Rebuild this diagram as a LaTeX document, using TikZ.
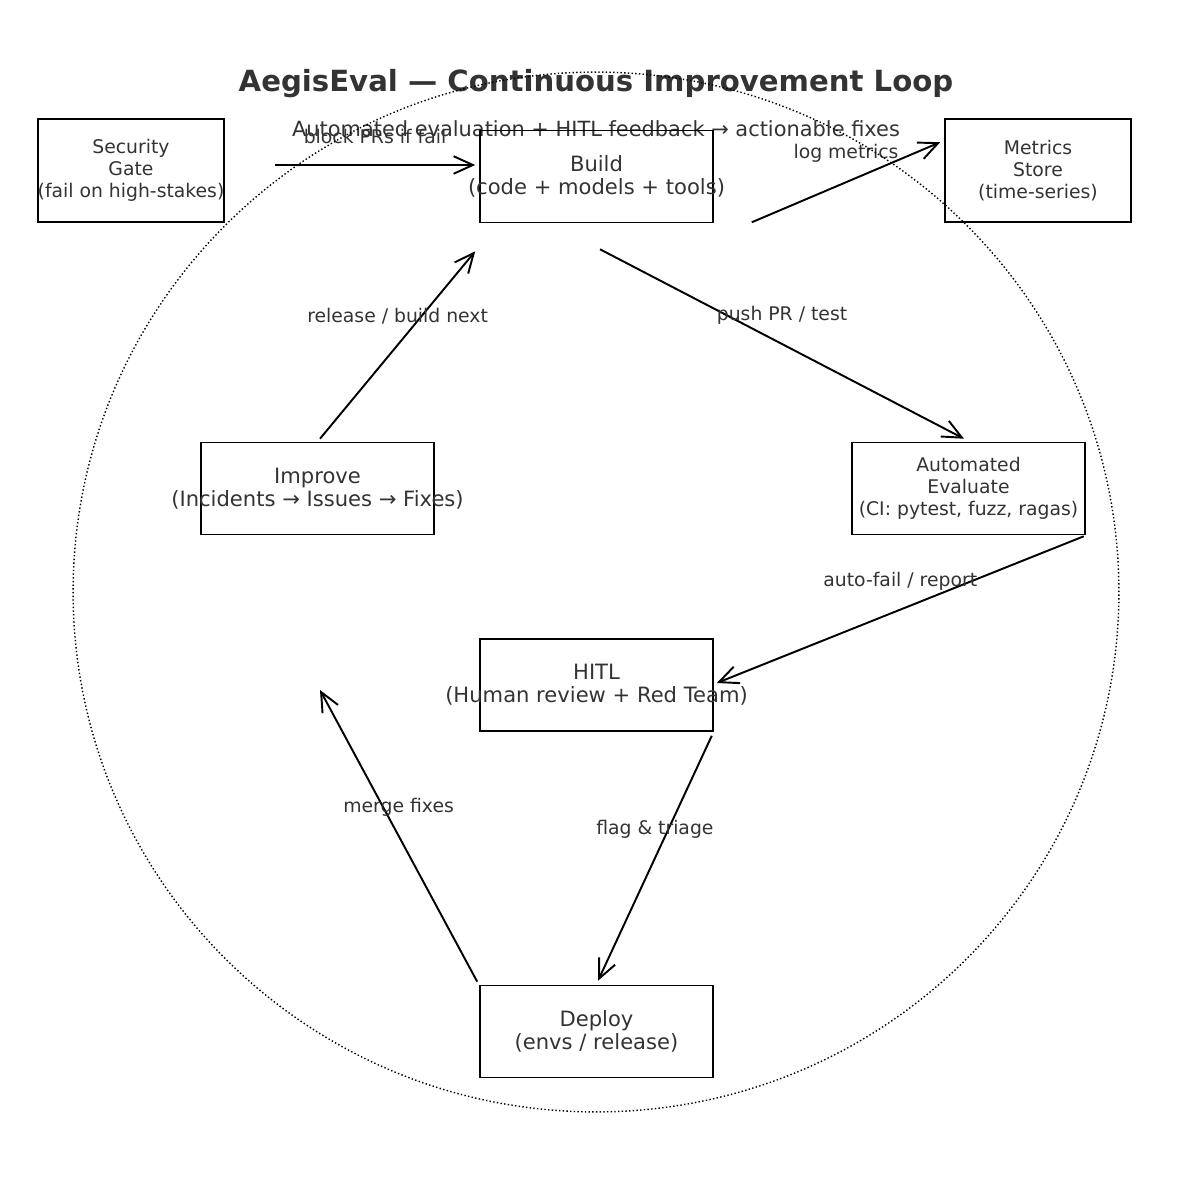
\documentclass[tikz,border=0pt]{standalone}
\usepackage{fontspec}
\setmainfont{DejaVu Sans}
\usetikzlibrary{arrows.meta}
\definecolor{txtgray}{HTML}{333333}

\begin{document}
\begin{tikzpicture}[x=0.02cm, y=-0.02cm, >={Straight Barb[length=11pt,width=10pt]}, line width=1.1pt,
    boxtxt/.style={text=txtgray, align=center, inner sep=0pt, font=\fontsize{12}{13}\selectfont},
    smalltxt/.style={boxtxt, font=\fontsize{10.7}{12.6}\selectfont},
    frame/.style={draw, line width=0.9pt, inner sep=0pt, minimum width=4.66cm, minimum height=1.84cm},
    box/.style={frame, label={[boxtxt]center:#1}},
    evalbox/.style={frame, label={[smalltxt]center:#1}},
    smallbox/.style={frame, minimum width=3.72cm, minimum height=2.06cm, label={[smalltxt]center:#1}},
    lbl/.style={text=txtgray, font=\fontsize{10.7}{12}\selectfont, yshift=16.4pt}]
    \useasboundingbox (0,0) rectangle (1192,1185);

    % Titles
    \node [text=txtgray, font=\fontsize{16.6}{18}\selectfont\bfseries] (title) at (596,84) {AegisEval — Continuous Improvement Loop};
    \node [text=txtgray, font=\fontsize{11.9}{13}\selectfont] (subtitle) at (596,129) {Automated evaluation + HITL feedback → actionable fixes};

    % Nodes {gate, build, metrics, improve, eval, hitl, deploy}
    \node [smallbox={Security\\Gate\\(fail on high-stakes)}]             (gate)    at (131,170.5)   {};
    \node [box={Build\\(code + models + tools)}]                          (build)   at (596.5,176.5) {};
    \node [smallbox={Metrics\\Store\\(time-series)}]                      (metrics) at (1038,170.5)  {};
    \node [box={Improve\\(Incidents → Issues → Fixes)}]                   (improve) at (317.5,488.5) {};
    \node [evalbox={Automated\\Evaluate\\(CI: pytest, fuzz, ragas)}]      (eval)    at (968.5,488.5) {};
    \node [box={HITL\\(Human review + Red Team)}]                         (hitl)    at (596.5,685)   {};
    \node [box={Deploy\\(envs / release)}]                                (deploy)  at (596.5,1031.5) {};
    \coordinate (mergetip) at (320,690);

    % Paths
    \path [->] ([shift={(50,-5.5)}]gate.east)        edge node [lbl] {block PRs if fail}    ([shift={(-4,-11.5)}]build.west);
    \path [->] ([shift={(38,-1)}]build.south east)   edge node [lbl] {log metrics}          ([shift={(-4,24)}]metrics.north west);
    \path [->] ([shift={(3.5,26)}]build.south)       edge node [lbl] {push PR / test}       ([shift={(-4.5,-3)}]eval.north);
    \path [->] ([shift={(-2,1)}]eval.south east)     edge node [lbl] {auto-fail / report}   ([shift={(3,-2)}]hitl.east);
    \path [->] ([shift={(-2,4)}]hitl.south east)     edge node [lbl] {flag \& triage}       ([shift={(1.5,-4)}]deploy.north);
    \path [->] ([shift={(-2,-3)}]deploy.north west)  edge node [lbl] {merge fixes}          (mergetip);
    \path [->] ([shift={(2.5,-3)}]improve.north)     edge node [lbl] {release / build next} ([shift={(-4,28)}]build.south west);

    % Loop
    \draw [line width=0.8pt, dash pattern=on 0.8pt off 1.3pt] (596,592) ellipse [x radius=10.46cm, y radius=10.4cm];
\end{tikzpicture}
\end{document}
